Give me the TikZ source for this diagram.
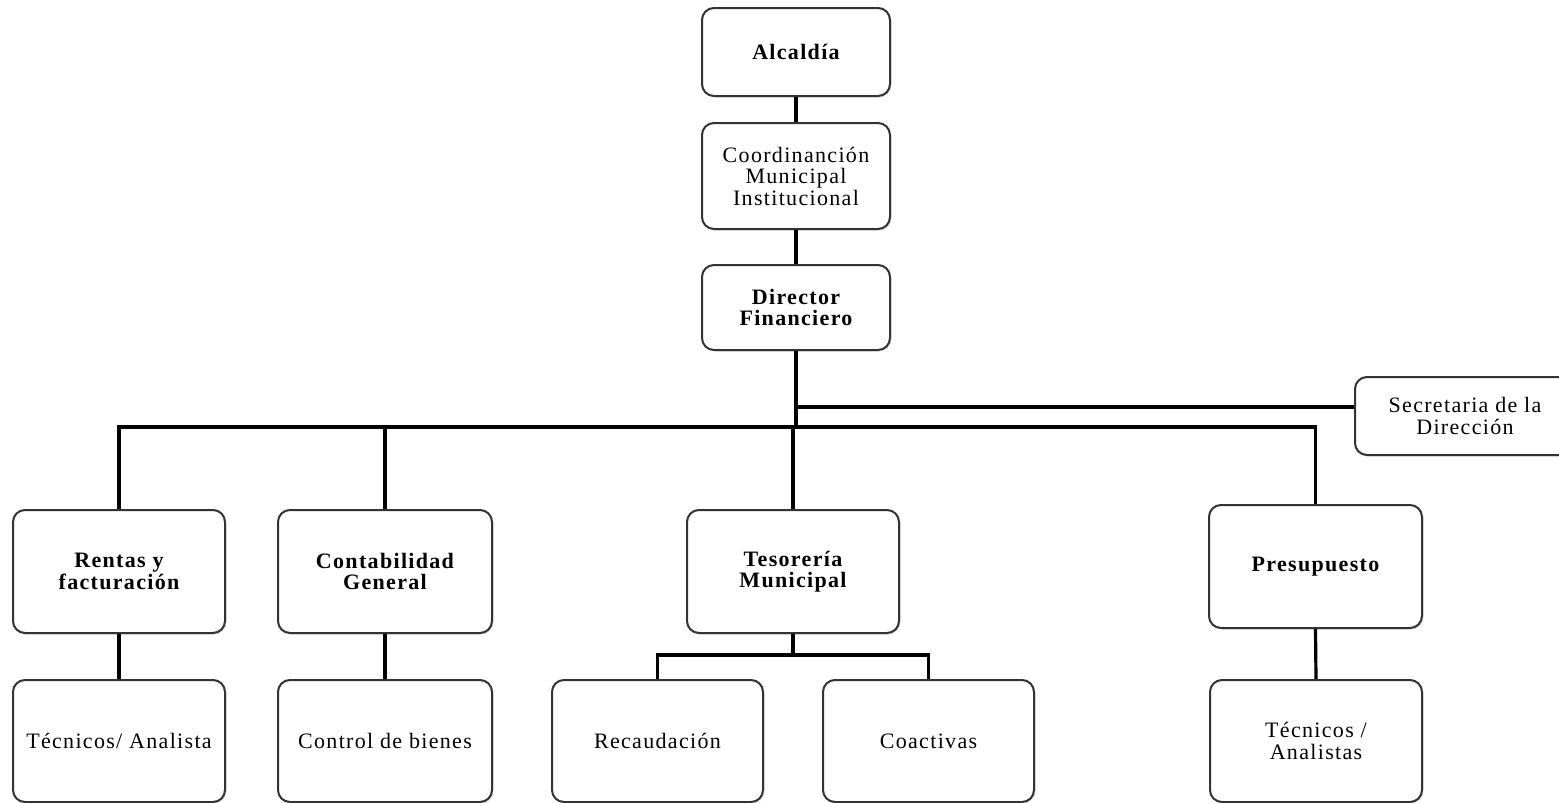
\documentclass[tikz,border=0pt]{standalone}
\usepackage{fontspec}
\setmainfont{Liberation Serif}[LetterSpace=6]
\usetikzlibrary{shadows}
\begin{document}
\begin{tikzpicture}[x=1pt,y=-1pt,
  unit/.style={draw=black!80, line width=2pt, rounded corners=12pt, fill=white,
    drop shadow={shadow xshift=1.5pt, shadow yshift=-1.5pt, opacity=0.25},
    align=center, inner sep=2pt,
    font=\fontsize{22}{21.5}\selectfont},
  boss/.style={unit, font=\fontsize{22}{21.5}\selectfont\bfseries},
  link/.style={line width=3.2pt, black}]
\useasboundingbox (0,0) rectangle (1559,803);

% top chain
\node[boss, minimum width=188pt, minimum height=88pt] (alc) at (796,52) {Alcaldía};
\node[unit, minimum width=188pt, minimum height=106pt] (coord) at (796,176)
  {Coordinanción\\Municipal\\Institucional};
\node[boss, minimum width=188pt, minimum height=85pt] (dir) at (796,307.5)
  {Director\\Financiero};
\node[unit, minimum width=220pt, minimum height=78pt] (sec) at (1465,416)
  {Secretaria de la\\Dirección};

% departments
\node[boss, minimum width=212pt, minimum height=123pt] (rentas) at (119,571.5)
  {Rentas y\\facturación};
\node[boss, minimum width=214pt, minimum height=123pt] (conta) at (385,571.5)
  {Contabilidad\\General};
\node[boss, minimum width=212pt, minimum height=123pt] (teso) at (793,571.5)
  {Tesorería\\Municipal};
\node[boss, minimum width=213pt, minimum height=123pt] (presu) at (1315.5,566.5)
  {Presupuesto};

% staff units
\node[unit, minimum width=212pt, minimum height=122pt] (tec1) at (119,741)
  {Técnicos/ Analista};
\node[unit, minimum width=214pt, minimum height=122pt] (ctrl) at (385,741)
  {Control de bienes};
\node[unit, minimum width=211pt, minimum height=122pt] (reca) at (657.5,741)
  {Recaudación};
\node[unit, minimum width=211pt, minimum height=122pt] (coac) at (928.5,741)
  {Coactivas};
\node[unit, minimum width=212pt, minimum height=122pt] (tec2) at (1316,741)
  {Técnicos /\\Analistas};

% junction points
\coordinate (hub) at (796,427);
\coordinate (secj) at (796,407);
\coordinate (tbus) at (793,655);

% connectors
\draw[link] (alc.south) -- (coord.north);
\draw[link] (coord.south) -- (dir.north);
\draw[link, line width=4pt] (dir.south) -- (hub);
\draw[link] (secj) -- (secj -| sec.west);
\draw[link] (rentas.north) |- (hub);
\draw[link] (conta.north) -- (conta.north |- hub);
\draw[link] (teso.north) -- (teso.north |- hub);
\draw[link] (hub) -| (presu.north);
\draw[link] (rentas.south) -- (tec1.north);
\draw[link] (conta.south) -- (ctrl.north);
\draw[link] (presu.south) -- (tec2.north);
\draw[link] (teso.south) -- (tbus);
\draw[link] (reca.north) |- (tbus) -| (coac.north);
\end{tikzpicture}
\end{document}
